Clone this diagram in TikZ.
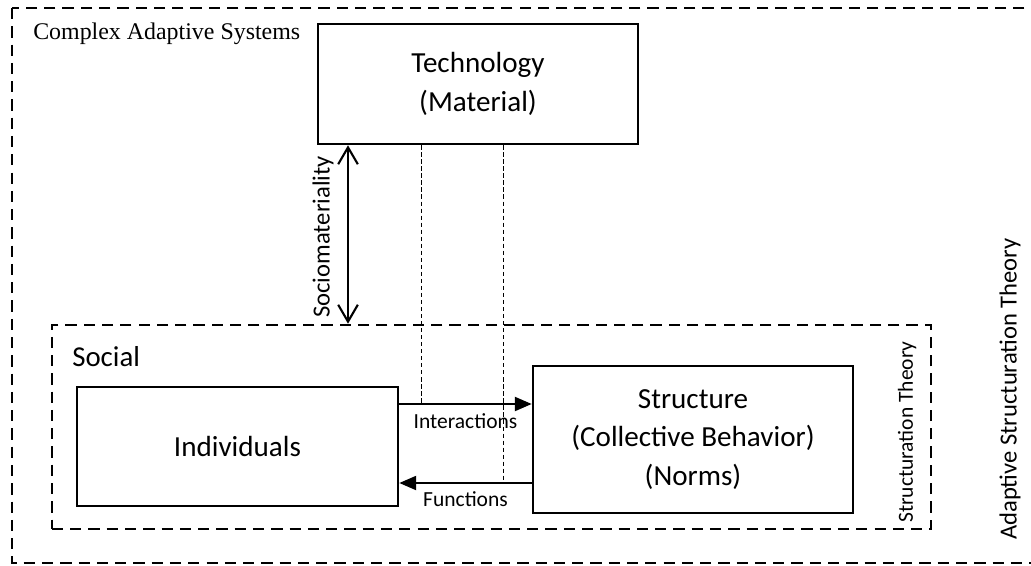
\documentclass[tikz,border=0pt]{standalone}
\usepackage{fontspec}
\setmainfont{Carlito}
\newfontfamily\timesfont{Liberation Serif}
\usepackage{tikz}
\usetikzlibrary{arrows.meta,positioning}

\begin{document}
\begin{tikzpicture}[x=0.025cm,y=-0.025cm,
  box/.style={draw,line width=1.8pt,inner sep=0pt,align=center,font=\fontsize{20.7}{27.4}\selectfont},
  frame/.style={draw,line width=1.8pt,dash pattern=on 8pt off 5pt},
  guide/.style={line width=0.6pt,dash pattern=on 3pt off 2pt},
  flow/.style={-{Triangle[length=12pt,width=10pt]},line width=1.4pt},
  link/.style={{Straight Barb[length=12pt,width=14pt]}-{Straight Barb[length=12pt,width=14pt]},line width=1.5pt},
  small/.style={font=\fontsize{15.3}{18}\selectfont,inner sep=1pt},
  side/.style={font=\fontsize{17.5}{20}\selectfont}]
\clip (0,0) rectangle (1031,565);
% frames
\draw[frame] (12,8) rectangle (1060,563);
\node[frame,minimum width=21.975cm,minimum height=5.1cm] (social) at (491.5,427) {};
% boxes
\node[box,minimum width=8cm,minimum height=3cm] (tech) at (478,84) {Technology\\(Material)};
\node[box,minimum width=8.025cm,minimum height=2.975cm] (indiv) at (237.5,446.5) {Individuals};
\node[box,minimum width=8cm,minimum height=3.675cm] (struct) at (693,439.5) {Structure\\(Collective Behavior)\\(Norms)};
% labels
\node[anchor=base west,inner sep=0pt,font=\timesfont\fontsize{17}{20}\selectfont] (cas) at (33,40) {Complex Adaptive Systems};
\node[anchor=base west,inner sep=0pt,font=\fontsize{20.5}{24}\selectfont] (soc) at (72,366) {Social};
\node[small,rotate=90] (st) at (907,432) {Structuration Theory};
\node[side,rotate=90] (ast) at (1010,389) {Adaptive Structuration Theory};
% sociomateriality
\coordinate (sm) at (348,0);
\draw[link] (sm |- tech.south) -- (sm |- social.north);
\node[side,rotate=90] (smlab) at (323,237) {Sociomateriality};
% interactions and functions
\path (indiv.east) ++(0,-42.5) coordinate (ia);
\path (indiv.east) ++(0,36.5) coordinate (fa);
\draw[flow] (ia) -- (ia -| struct.west) node[midway,below=5pt,small] (inter) {Interactions};
\draw[flow] (fa -| struct.west) -- (fa) node[midway,below=4.5pt,small] (func) {Functions};
% guides
\coordinate (g1) at (421,0);
\coordinate (g2) at (503,0);
\draw[guide] (g1 |- tech.south) -- (g1 |- ia);
\draw[guide] (g2 |- tech.south) -- (g2 |- fa);
\end{tikzpicture}
\end{document}
